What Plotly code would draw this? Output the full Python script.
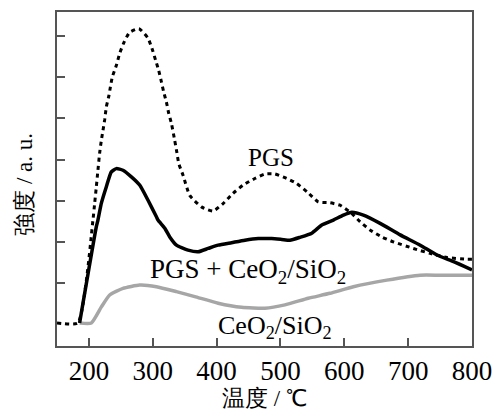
import plotly.graph_objects as go

# PGS (dashed)
pgs_t = [150, 182.7, 206.3, 209, 211.6, 214.1, 216.8, 219.5, 222, 224.6, 227.3, 231.4, 233.6, 236.7,
         243, 248.2, 254.4, 263.7, 278.3, 292.5, 298.8, 304.5, 309.2, 313.5, 317.1, 321.3, 324.9,
         329.2, 334.3, 337.9, 340.6, 347.4, 357.9, 376.2, 394.4, 410.1, 425.8, 441.5, 459.8, 475.5,
         491.2, 509.6, 525.3, 543.5, 559.2, 577.5, 593.2, 611.6, 624.6, 640.3, 658.6, 676.8, 708.2,
         734.4, 760.6, 792, 800]
pgs_v = [0.03, 0.03, 2.53, 2.94, 3.34, 3.74, 4.16, 4.47, 4.71, 4.96, 5.28, 5.56, 5.76, 6.01,
         6.29, 6.58, 6.83, 7.09, 7.18, 6.95, 6.70, 6.41, 6.17, 5.89, 5.64, 5.40, 5.13,
         4.88, 4.47, 4.16, 3.91, 3.62, 3.13, 2.85, 2.75, 2.93, 3.18, 3.38, 3.54, 3.65,
         3.65, 3.54, 3.42, 3.19, 2.97, 2.95, 2.89, 2.69, 2.49, 2.29, 2.12, 2.00, 1.84,
         1.72, 1.62, 1.58, 1.58]

# PGS + CeO2/SiO2 (solid black)
mix_t = [185.4, 211.6, 214.1, 219.5, 227.3, 235.1, 243, 253.3, 266.5, 279.5, 292.6, 305.7, 308.2,
         318.8, 326.6, 337.1, 355.3, 371, 386.7, 402.4, 423.4, 444.3, 465.2, 486.2, 501.9, 514.9,
         530.6, 549, 564.7, 582.9, 598.6, 611.7, 629.9, 656.1, 687.5, 718.9, 745.1, 771.2, 800]
mix_v = [0.03, 2.37, 2.53, 2.94, 3.34, 3.70, 3.78, 3.74, 3.58, 3.38, 3.01, 2.61, 2.53,
         2.33, 2.12, 1.92, 1.80, 1.76, 1.84, 1.92, 1.98, 2.04, 2.08, 2.08, 2.06, 2.04,
         2.11, 2.21, 2.41, 2.53, 2.65, 2.72, 2.65, 2.45, 2.17, 1.92, 1.68, 1.52, 1.32]

# CeO2/SiO2 (gray)
ce_t = [185.4, 203.8, 219.5, 232.5, 253.4, 279.5, 305.7, 337.1, 365.8, 402.4, 439.1, 475.7,
        507, 543.6, 577.6, 614.2, 666.6, 718.9, 750, 800]
ce_v = [0.03, 0.03, 0.42, 0.71, 0.87, 0.95, 0.91, 0.79, 0.67, 0.51, 0.41, 0.39,
        0.47, 0.63, 0.75, 0.91, 1.07, 1.19, 1.19, 1.19]

x_ticks = [200, 300, 400, 500, 600, 700, 800]
y_ticks = [1, 2, 3, 4, 5, 6, 7]

SERIF = "Liberation Serif"
AXC = "#555555"

fig = go.Figure()
fig.add_trace(go.Scatter(x=ce_t, y=ce_v, mode="lines",
                         line=dict(color="#a6a6a6", width=3.5, shape="spline", smoothing=0.5),
                         showlegend=False))
fig.add_trace(go.Scatter(x=mix_t, y=mix_v, mode="lines",
                         line=dict(color="black", width=3.5, shape="spline", smoothing=0.5),
                         showlegend=False))
fig.add_trace(go.Scatter(x=pgs_t, y=pgs_v, mode="lines",
                         line=dict(color="black", width=3, dash="4px,4px", shape="spline", smoothing=0.5),
                         showlegend=False))

fig.update_layout(
    width=492, height=410,
    margin=dict(l=57, r=20, t=12, b=64, autoexpand=False),
    paper_bgcolor="white", plot_bgcolor="white",
    font=dict(family=SERIF, color="black"),
    xaxis=dict(range=[150, 800], tickvals=x_ticks, ticks="inside", ticklen=8, tickwidth=1.5,
               tickcolor=AXC, showline=True, linecolor=AXC, linewidth=1.5, mirror=True,
               showgrid=False, zeroline=False, ticklabeloverflow="allow", automargin=False,
               tickfont=dict(family=SERIF, size=27, color="black")),
    yaxis=dict(range=[-0.53, 7.585], tickvals=y_ticks, ticks="inside", ticklen=8, tickwidth=1.5,
               tickcolor=AXC, showline=True, linecolor=AXC, linewidth=1.5, mirror=True,
               showgrid=False, zeroline=False, showticklabels=False),
    annotations=[
        dict(text="温度 / ℃", xref="paper", yref="paper", x=0.5, y=-0.158,
             xanchor="center", yanchor="middle", showarrow=False,
             font=dict(family=SERIF, size=23, color="black")),
        dict(text="強度 / a. u.", xref="paper", yref="paper", x=-0.08, y=0.485,
             xanchor="center", yanchor="middle", showarrow=False, textangle=-90,
             font=dict(family=SERIF, size=23, color="black")),
        dict(text="PGS", x=485, y=4.06, xanchor="center", yanchor="middle", showarrow=False,
             font=dict(family=SERIF, size=25, color="black")),
        dict(text="PGS + CeO<sub>2</sub>/SiO<sub>2</sub>", x=449, y=1.30, xanchor="center",
             yanchor="middle", showarrow=False, font=dict(family=SERIF, size=27, color="black")),
        dict(text="CeO<sub>2</sub>/SiO<sub>2</sub>", x=491, y=-0.08, xanchor="center",
             yanchor="middle", showarrow=False, font=dict(family=SERIF, size=26, color="black")),
    ],
)

fig.write_html("out.html")
